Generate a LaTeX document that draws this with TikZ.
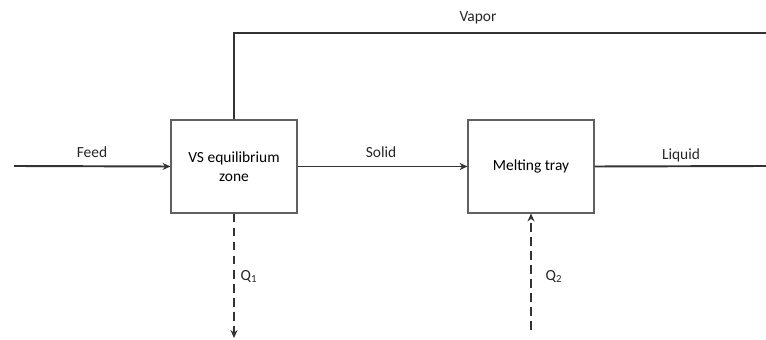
\documentclass[tikz,border=0pt]{standalone}
\usepackage{fontspec}
\setmainfont{Carlito}
\usetikzlibrary{arrows.meta}
\usetikzlibrary{positioning}

\begin{document}
\begin{tikzpicture}[x=0.02cm,y=-0.02cm,
		zone/.style={draw=gray!75!black, line width=0.6pt, fill=white, minimum width=2.52cm, minimum height=1.86cm, inner sep=0pt, align=center, font=\fontsize{8.8}{10.8}\selectfont},
		stream/.style={line width=1.1pt, draw=black!80},
		heat/.style={stream, dash pattern=on 5pt off 3pt},
		tip/.style={-{Stealth[length=4.5pt,width=4pt]}},
		lbl/.style={font=\fontsize{8.8}{10.8}\selectfont, text=black!85}]
		
		\useasboundingbox (0,0) rectangle (766,340);		% page
		
		% units
		\node[zone] (vs) at (234,166.5) {VS equilibrium\\zone};
		\node[zone] (melt) at (531,166.5) {Melting tray};
		
		% loose ends
		\coordinate (feedin) at (14,166);
		\coordinate (vapout) at (766,33);
		\coordinate (liqout) at (766,166);
		\coordinate (q1out) at (234,338);
		\coordinate (q2in) at (531,330);
		
		% streams
		\draw[stream,tip] (feedin) -- (vs.west);
		\draw[stream,tip] (vs.east) -- (melt.west);
		\draw[stream] (vs.north) |- (vapout);
		\draw[stream] (melt.east) -- (liqout);
		
		% heat duties
		\draw[heat,tip] (vs.south) -- (q1out);
		\draw[heat,tip] (q2in) -- (melt.south);
		
		% labels
		\node[lbl] (feedlbl) at (92,152) {Feed};
		\node[lbl] (solidlbl) at (381,152) {Solid};
		\node[lbl] (liqlbl) at (681,155) {Liquid};
		\node[lbl] (vaplbl) at (478,18) {Vapor};
		\node[lbl] (q1lbl) at (249,277) {Q\textsubscript{1}};
		\node[lbl] (q2lbl) at (554,277) {Q\textsubscript{2}};
\end{tikzpicture}
\end{document}
